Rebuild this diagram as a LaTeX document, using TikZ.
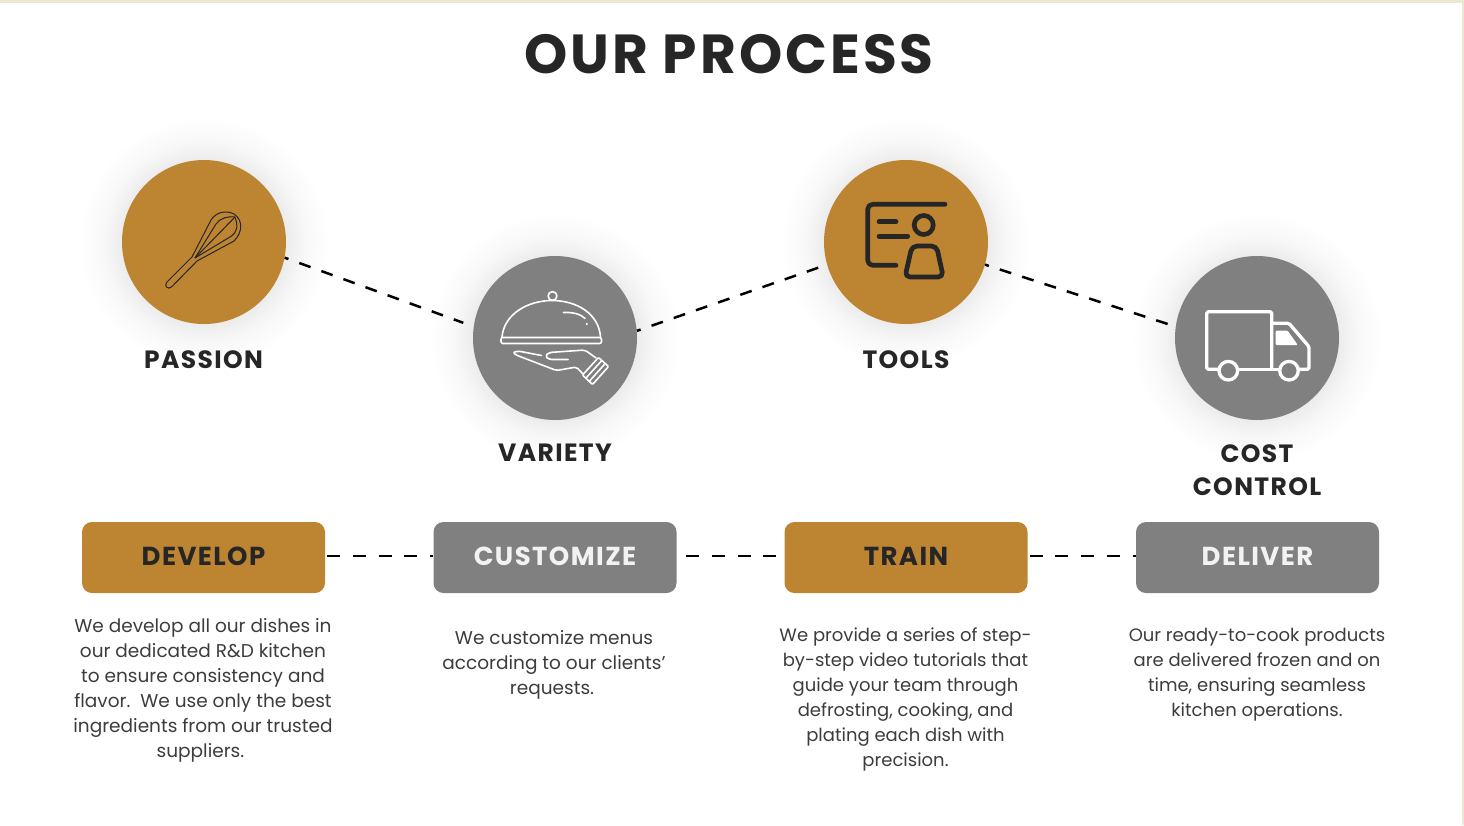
\documentclass[tikz,border=0pt]{standalone}
\usepackage{fontspec}
\setmainfont{Poppins}
\newfontfamily\headfont[LetterSpace=5.5]{Poppins}
\newfontfamily\bodyfont{Poppins}
\definecolor{gold}{HTML}{BD8432}
\definecolor{slate}{HTML}{808080}
\definecolor{ink}{HTML}{262626}
\definecolor{edgeline}{HTML}{EDE6D2}
\pgfdeclareradialshading{halo}{\pgfpoint{0bp}{0bp}}{%
  color(0bp)=(black!8); color(16bp)=(black!8); color(20bp)=(black!3); color(25bp)=(white); color(50bp)=(white)}
\tikzset{
  round/.style={circle,minimum size=164pt,inner sep=0pt},
  label/.style={font=\headfont\bfseries\fontsize{25}{33}\selectfont,text=ink,align=center},
  bar/.style={rectangle,rounded corners=10pt,minimum width=243pt,minimum height=71pt,inner sep=0pt,
    font=\headfont\bfseries\fontsize{26}{30}\selectfont},
  blurb/.style={font=\bodyfont\fontsize{18.5}{25}\selectfont,text=ink!90,align=center},
  smallblurb/.style={blurb,font=\bodyfont\fontsize{18}{25}\selectfont},
  link/.style={draw=black,line width=2.5pt,dash pattern=on 13pt off 12.7pt},
  slant/.style={draw=black,line width=2.5pt,dash pattern=on 12pt off 11.5pt,dash phase=8pt}
}
\begin{document}
\begin{tikzpicture}[x=1pt,y=-1pt]
  \useasboundingbox (0,0) rectangle (1464,825);
  \fill[edgeline] (0,0) rectangle (1464,2.5);
  \fill[edgeline] (1462,0) rectangle (1464,825);
  \node[font=\headfont\bfseries\fontsize{55}{60}\selectfont,text=ink] (title) at (729,54) {OUR PROCESS};
  % soft glow behind the circles
  \foreach \x/\y in {204/242,555/338,906/242,1257/338}
    \shade[shading=halo] (\x,\y) circle (125);
  \node[round,fill=gold] (passion) at (204,242) {};
  \node[round,fill=slate] (variety) at (555,338) {};
  \node[round,fill=gold] (tools) at (906,242) {};
  \node[round,fill=slate] (cost) at (1257,338) {};
  \node[label] (passionlabel) at (203.5,360) {PASSION};
  \node[label] (varietylabel) at (555,453) {VARIETY};
  \node[label] (toolslabel) at (906,360) {TOOLS};
  \node[label] (costlabel) at (1257,470) {COST\\CONTROL};
  \draw[slant,shorten >=11pt] (passion.-11) -- (variety.172);
  \draw[slant,shorten >=3pt] (variety.5) -- (tools.196);
  \draw[slant,shorten >=6pt] (tools.-16) -- (cost.172);
  \node[bar,fill=gold,text=ink] (develop) at (203.5,557.5) {\raisebox{2pt}{DEVELOP}};
  \node[bar,fill=slate,text=black!5] (customize) at (555,557.5) {\raisebox{2pt}{CUSTOMIZE}};
  \node[bar,fill=gold,text=ink] (train) at (906,557.5) {\raisebox{2pt}{TRAIN}};
  \node[bar,fill=slate,text=black!5] (deliver) at (1257.5,557.5) {\raisebox{2pt}{DELIVER}};
  \draw[link,shorten <=2pt] (develop.east |- 0,556) -- (customize.west |- 0,556);
  \draw[link,shorten <=9.5pt] (customize.east |- 0,556) -- (train.west |- 0,556);
  \draw[link,shorten <=2pt] (train.east |- 0,556) -- (deliver.west |- 0,556);
  \node[blurb] (developtext) at (203,690) {We develop all our dishes in\\our dedicated R\&D kitchen\\to ensure consistency and\\flavor.\ \ We use only the best\\ingredients from our trusted\\suppliers.\hspace*{5pt}};
  \node[blurb] (customizetext) at (554,665) {We customize menus\\according to our clients’\\requests.\hspace*{4pt}};
  \node[smallblurb] (traintext) at (905.5,699) {We provide a series of step-\\by-step video tutorials that\\guide your team through\\defrosting, cooking, and\\plating each dish with\\precision.};
  \node[smallblurb] (delivertext) at (1257,675) {Our ready-to-cook products\\are delivered frozen and on\\time, ensuring seamless\\kitchen operations.};
  % whisk
  \begin{scope}[draw=ink,line width=1pt,line join=round]
    \draw (192,257) -- (166.5,282.5) .. controls (164,286) and (168,290) .. (171.5,287) -- (197,261);
    \draw (192,257) -- (211,220) .. controls (216,212) and (226,210) .. (234,214)
      .. controls (243,220) and (243,232) .. (234,241) -- (197,261);
    \draw (195,258) -- (216,224) .. controls (220,218) and (228,216) .. (235,217)
      .. controls (238,226) and (238,232) .. (230,237) -- cycle;
    \draw (195,258) -- (235,217);
  \end{scope}
  % cloche and hand
  \begin{scope}[draw=white,line width=1.6pt,line join=round,line cap=round]
    \draw (552.5,296) circle (4.4);
    \draw (502,337) .. controls (504,314) and (528,300.5) .. (552,300.5) .. controls (577,300.5) and (599,314) .. (600.5,337);
    \draw[rounded corners=2pt] (501,337.5) rectangle (601.5,343.5);
    \draw (563.5,312.5) .. controls (572,312) and (581,314) .. (585,318.5);
    \draw (586.7,323.5) -- (586.9,324.5);
    \draw[rounded corners=2pt] (541.5,355.5) -- (518,351) -- (513,352.5) -- (516,355) -- (556.5,370.5) -- (576.5,367) -- (583,374);
    \draw[rounded corners=3pt] (568,359.5) -- (549,359.5) -- (545,356) -- (549,352.5) -- (585,350) -- (596,358);
    \draw[rounded corners=1pt] (598.5,357.5) -- (608.5,366.5) -- (592.5,384.5) -- (582.5,375) -- cycle;
    \draw (601.8,360.5) -- (586,378);
    \draw (605.2,363.5) -- (589.2,381.4);
  \end{scope}
  % presentation card
  \begin{scope}[draw=ink,line width=4.7pt,line cap=round,line join=round]
    \draw[rounded corners=5pt] (945,204.3) -- (867.7,204.3) -- (867.7,265.3) -- (896,265.3);
    \draw (879,221.7) -- (896,221.7);
    \draw (879,236.3) -- (907.7,236.3);
    \draw (923.7,225) circle (9.5);
    \draw[rounded corners=5pt] (912,246) -- (936.5,246) -- (943.3,277) -- (905,277) -- cycle;
  \end{scope}
  % truck
  \begin{scope}[draw=white,line width=3.3pt,line join=round,line cap=round]
    \draw[rounded corners=1.5pt] (1218,369.3) -- (1206.7,369.3) -- (1206.7,311.7) -- (1271.7,311.7) -- (1271.7,369.3);
    \draw (1238.3,369.3) -- (1279,369.3);
    \draw[rounded corners=1.5pt] (1271.7,323.3) -- (1289,323.3) -- (1309,346.7) -- (1309,369.3) -- (1299,369.3);
    \draw (1228.3,370.7) circle (9.3);
    \draw (1289,370.7) circle (9.3);
    \fill[white,rounded corners=1pt] (1275.7,330.7) -- (1287.7,330.7) -- (1297.7,345) -- (1275.7,345) -- cycle;
  \end{scope}
\end{tikzpicture}
\end{document}
